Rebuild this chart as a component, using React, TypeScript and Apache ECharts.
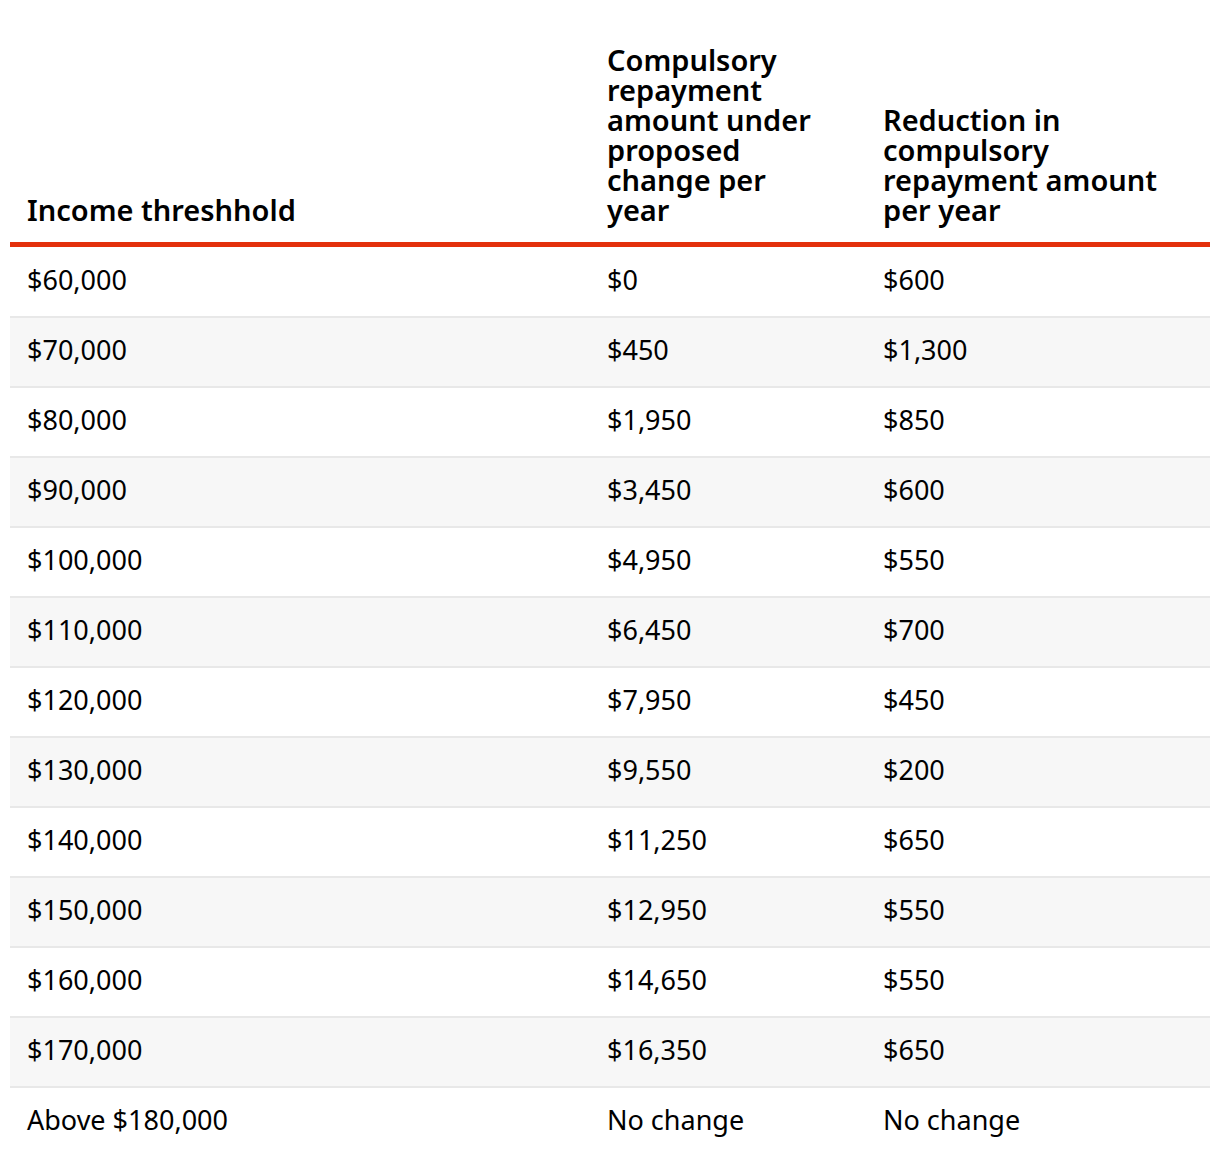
import React, { useEffect, useRef } from "react";
import * as echarts from "echarts";

const headers = [
  "Income threshhold",
  "Compulsory\nrepayment\namount under\nproposed\nchange per\nyear",
  "Reduction in\ncompulsory\nrepayment amount\nper year",
];

const incomeThresholds = [
  "$60,000", "$70,000", "$80,000", "$90,000", "$100,000", "$110,000", "$120,000",
  "$130,000", "$140,000", "$150,000", "$160,000", "$170,000", "Above $180,000",
];

const proposedRepayment = [
  "$0", "$450", "$1,950", "$3,450", "$4,950", "$6,450", "$7,950",
  "$9,550", "$11,250", "$12,950", "$14,650", "$16,350", "No change",
];

const reduction = [
  "$600", "$1,300", "$850", "$600", "$550", "$700", "$450",
  "$200", "$650", "$550", "$550", "$650", "No change",
];

const FONT = '"Noto Sans", sans-serif';

export default function App() {
  const ref = useRef<HTMLDivElement>(null);
  useEffect(() => {
    if (!ref.current) return;
    const chart = echarts.init(ref.current, undefined, { renderer: "svg" });
    const left = 10;
    const right = 1210;
    const colX = [27, 607, 883];
    const top = 247;
    const rowH = 70;
    const elements: any[] = [];
    headers.forEach((h, i) => {
      elements.push({
        type: "text",
        x: colX[i],
        y: 224,
        style: {
          text: h,
          font: `600 29px ${FONT}`,
          lineHeight: 30,
          fill: "#000",
          verticalAlign: "bottom",
          align: "left",
        },
      });
    });
    elements.push({
      type: "rect",
      shape: { x: left, y: 242, width: right - left, height: 5 },
      style: { fill: "#e3300c" },
    });
    const columns = [incomeThresholds, proposedRepayment, reduction];
    incomeThresholds.forEach((_, r) => {
      const y = top + r * rowH;
      elements.push({
        type: "rect",
        shape: { x: left, y, width: right - left, height: rowH },
        style: { fill: r % 2 === 1 ? "#f7f7f7" : "#ffffff" },
        z: 0,
      });
      if (r < incomeThresholds.length - 1) {
        elements.push({
          type: "rect",
          shape: { x: left, y: y + rowH - 1, width: right - left, height: 2 },
          style: { fill: "#e8e8e8" },
          z: 1,
        });
      }
      columns.forEach((col, c) => {
        elements.push({
          type: "text",
          x: colX[c],
          y: y + 32,
          z: 2,
          style: {
            text: col[r],
            font: `27px ${FONT}`,
            fill: "#000",
            verticalAlign: "middle",
            align: "left",
          },
        });
      });
    });
    chart.setOption({
      animation: false,
      backgroundColor: "#ffffff",
      graphic: { elements },
    });
    return () => chart.dispose();
  }, []);
  return (
    <div
      ref={ref}
      style={{ position: "absolute", left: 0, top: 0, width: 1220, height: 1166 }}
    />
  );
}
